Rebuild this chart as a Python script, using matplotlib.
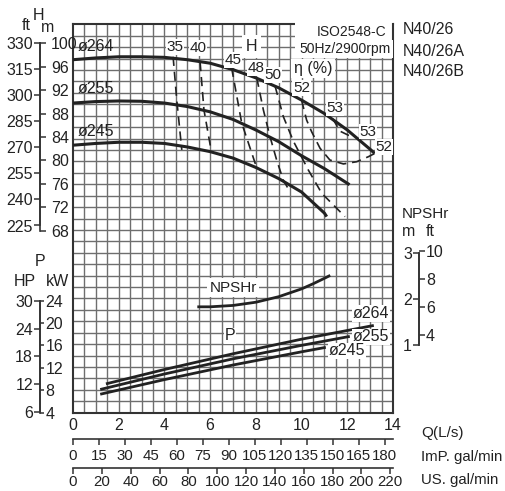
import matplotlib.pyplot as plt
import numpy as np
from matplotlib.patches import Rectangle

plt.rcParams["font.family"] = ["Liberation Sans", "DejaVu Sans"]

# ---- data (Q in L/s) ----
# head curves, m
q_h264 = [0, 1, 2, 3, 4, 5, 6, 7, 8, 9, 10, 11, 12, 13, 13.2]
h_264 = [97.2, 97.5, 97.7, 97.7, 97.6, 97.2, 96.6, 95.5, 94.1, 92.4, 90.3, 88.0, 85.2, 81.9, 81.2]
q_h255 = [0, 1, 2, 3, 4, 5, 6, 7, 8, 9, 10, 11, 12, 12.1]
h_255 = [89.8, 90.05, 90.15, 90.1, 89.8, 89.2, 88.3, 87.0, 85.2, 83.2, 80.8, 78.6, 76.1, 75.85]
q_h245 = [0, 1, 2, 3, 4, 5, 6, 7, 8, 9, 10, 11, 11.1]
h_245 = [82.6, 82.9, 83.1, 83.1, 82.9, 82.3, 81.5, 80.4, 78.8, 76.9, 74.6, 71.0, 70.4]

# iso-efficiency lines (Q, H)
eff_levels = ["35", "40", "45", "48", "50", "52", "53"]
eff_q = [
    [4.38, 4.54, 4.76],
    [5.56, 5.73, 6.04],
    [6.94, 7.38, 8.04],
    [8.04, 8.33, 8.62, 8.91, 9.2, 9.49],
    [8.84, 9.2, 9.64, 10.29, 10.88, 11.9],
    [10.0, 10.22, 10.44, 10.81, 11.24, 11.83, 12.41, 12.92, 13.21],
    [11.37, 11.68, 12.12, 12.3],
]
eff_h = [
    [97.7, 90.3, 81.8],
    [96.8, 88.6, 81.8],
    [95.8, 86.4, 78.7],
    [94.1, 88.6, 84.05, 80.07, 76.65, 74.65],
    [92.7, 87.5, 83.3, 78.4, 74.4, 70.4],
    [90.3, 86.9, 84.9, 82.07, 80.07, 79.4, 79.78, 80.63, 81.21],
    [87.1, 85.0, 84.17, 84.3],
]
eff_label_text = ["35", "40", "45", "48", "50", "52", "53", "53", "52"]
eff_label_q = [4.46, 5.47, 6.99, 8.0, 8.75, 10.0, 11.46, 12.9, 13.6]
eff_label_h = [99.4, 99.2, 97.15, 95.8, 94.6, 92.4, 88.95, 84.9, 82.3]

# NPSHr, m
q_npsh = [5.5, 6, 7, 8, 9, 10, 10.5, 11, 11.2]
npsh = [1.83, 1.83, 1.86, 1.93, 2.05, 2.22, 2.33, 2.45, 2.5]

# shaft power, kW
q_p264 = [1.5, 4, 7, 10, 13.1]
p_264 = [9.3, 11.8, 14.6, 17.2, 19.6]
q_p255 = [1.25, 4, 7, 10, 12.05]
p_255 = [8.3, 11.0, 13.7, 16.1, 17.65]
q_p245 = [1.25, 4, 7, 10, 11.0]
p_245 = [7.45, 10.0, 12.6, 14.95, 15.7]

# axis ticks
q_ticks = list(range(0, 15, 2))
imp_ticks = list(range(0, 181, 15))
us_ticks = list(range(0, 221, 20))
head_m_ticks = list(range(68, 101, 4))
head_ft_ticks = list(range(225, 331, 15))
p_kw_ticks = list(range(4, 25, 4))
p_hp_ticks = list(range(6, 31, 6))
npsh_m_ticks = [1, 2, 3]
npsh_ft_ticks = [4, 6, 8, 10]
models = ["N40/26", "N40/26A", "N40/26B"]

# ---- layout (pixels of the 506x491 picture) ----
W, H = 506, 491
GL, GR, GT, GB = 73, 393, 24.3, 412.7
INK = "#222222"
FS = 11.5
IMP_PER_LS = 13.198
US_PER_LS = 15.850


def fx(x):
    return x / W


def fy(y):
    return 1 - y / H


def lim(v1, p1, v2, p2):
    s = (v2 - v1) / (p2 - p1)
    return v1 + (GB - p1) * s, v1 + (GT - p1) * s


def add_ax(x0, x1, y0=GT, y1=GB):
    return fig.add_axes([fx(x0), fy(y1), (x1 - x0) / W, max((y1 - y0) / H, 1e-4)])


def overlay(ylim):
    ax = add_ax(GL, GR)
    ax.set_xlim(0, 14)
    ax.set_ylim(*ylim)
    ax.axis("off")
    return ax


fig = plt.figure(figsize=(W / 100, H / 100), dpi=100)

# grid
axg = add_ax(GL, GR)
axg.set_xlim(0, 14)
axg.set_ylim(0, 34)
for xv in np.arange(0.5, 14, 0.5):
    axg.axvline(xv, color="#6e6e6e", lw=1.0, zorder=1)
for yv in range(1, 34):
    axg.axhline(yv, color="#6e6e6e", lw=1.0, zorder=1)
for s in axg.spines.values():
    s.set_color("#333333")
    s.set_linewidth(1.5)
axg.spines["right"].set_zorder(6)
axg.add_patch(Rectangle((9.7, 31.5), 4.3, 3, fc="white", ec="none", zorder=4, clip_on=False))
axg.set_xticks(q_ticks)
axg.set_yticks([])
axg.tick_params(axis="x", length=0, pad=4, labelsize=FS, labelcolor=INK)

box = dict(boxstyle="square,pad=0.05", fc="white", ec="none")

# head + efficiency
axh = overlay(lim(100, 43.3, 68, 230.7))
for q, h in [(q_h264, h_264), (q_h255, h_255), (q_h245, h_245)]:
    axh.plot(q, h, color=INK, lw=2.2, solid_capstyle="butt")
for q, h in zip(eff_q, eff_h):
    axh.plot(q, h, color=INK, lw=1.2, dashes=(5.5, 3.5))
for t, q, h in zip(eff_label_text, eff_label_q, eff_label_h):
    axh.text(q, h, t, fontsize=11, color=INK, ha="center", va="center", bbox=box, zorder=5)
for t, h in zip(["ø264", "ø255", "ø245"], [99.4, 92.2, 84.9]):
    axh.text(0.2, h, t, fontsize=FS, color=INK, ha="left", va="center")
axh.text(7.8, 99.4, "H", fontsize=FS, color=INK, ha="center", va="center",
         bbox=dict(boxstyle="square,pad=0.25", fc="white", ec="none"))
axh.text(10.5, 95.7, "η (%)", fontsize=FS, color=INK, ha="center", va="center",
         bbox=dict(boxstyle="square,pad=0.15", fc="white", ec="none"))

# NPSHr
axn = overlay(lim(3, 253, 1, 345))
axn.plot(q_npsh, npsh, color=INK, lw=2.0)
axn.text(7.0, 2.25, "NPSHr", fontsize=11, color=INK, ha="center", va="center",
         bbox=dict(boxstyle="square,pad=0.15", fc="white", ec="none"))

# power
axp = overlay(lim(24, 301, 4, 413.3))
for q, p in [(q_p264, p_264), (q_p255, p_255), (q_p245, p_245)]:
    axp.plot(q, p, color=INK, lw=2.0)
axp.text(6.87, 17.8, "P", fontsize=FS, color=INK, ha="center", va="center", bbox=box)
for t, q, p in [("ø264", 13.04, 21.8), ("ø255", 13.04, 17.6), ("ø245", 12.0, 15.1)]:
    axp.text(q, p, t, fontsize=FS, color=INK, ha="center", va="center", bbox=box)

fig.text(fx(386), fy(32.5), "ISO2548-C", fontsize=10, color=INK, ha="right", va="center")
fig.text(fx(391), fy(49), "50Hz/2900rpm", fontsize=10, color=INK, ha="right", va="center",
         bbox=dict(boxstyle="square,pad=0.15", fc="white", ec="none"))


def scale_axis(x, ylim, ticks, bounds, side, length, pad):
    ax = add_ax(x, x + 0.02)
    ax.set_ylim(*ylim)
    ax.patch.set_visible(False)
    ax.set_xticks([])
    for s in ax.spines.values():
        s.set_visible(False)
    sp = ax.spines[side]
    sp.set_visible(True)
    sp.set_bounds(*bounds)
    sp.set_color("#333333")
    sp.set_linewidth(1.2)
    if side == "right":
        ax.yaxis.tick_right()
    ax.set_yticks(ticks)
    ax.tick_params(axis="y", length=length, width=1.1, color="#333333", pad=pad,
                   labelsize=FS, labelcolor=INK)
    return ax


# left scales
scale_axis(40, lim(330, 43.3, 225, 225.5), head_ft_ticks, (225, 330), "left", 4, 1)
scale_axis(40, lim(100, 43.3, 68, 230.7), head_m_ticks, (68, 100), "right", 4, 4)
scale_axis(40, lim(30, 301, 6, 411.7), p_hp_ticks, (6, 30), "left", 4, 1)
scale_axis(40, lim(24, 301, 4, 413.3), p_kw_ticks, (4, 24), "right", 3, 1)
# right NPSH scale
n_lim = lim(3, 253, 1, 345)
scale_axis(419, n_lim, npsh_m_ticks, (1, 3), "left", 4, 1)
scale_axis(419, (n_lim[0] * 3.2808, n_lim[1] * 3.2808), npsh_ft_ticks, (1 * 3.2808, 3 * 3.2808),
           "right", 4, 1)


def flow_axis(y, per_ls, ticks, pad):
    ax = add_ax(GL, GR, y, y)
    ax.set_xlim(0, 14 * per_ls)
    ax.patch.set_visible(False)
    ax.set_yticks([])
    for s in ax.spines.values():
        s.set_visible(False)
    ax.spines["bottom"].set_visible(True)
    ax.spines["bottom"].set_color("#333333")
    ax.spines["bottom"].set_linewidth(1.2)
    ax.set_xticks(ticks)
    ax.tick_params(axis="x", length=4, width=1.1, color="#333333", pad=pad,
                   labelsize=10.8, labelcolor=INK)


flow_axis(439.3, IMP_PER_LS, imp_ticks, 3)
flow_axis(467.7, US_PER_LS, us_ticks, 1.5)

# axis titles
fig.text(fx(26), fy(25), "ft", fontsize=FS, color=INK, ha="center", va="center")
fig.text(fx(39), fy(15), "H", fontsize=FS, color=INK, ha="center", va="center")
fig.text(fx(48), fy(27), "m", fontsize=FS, color=INK, ha="center", va="center")
fig.text(fx(40), fy(261), "P", fontsize=FS, color=INK, ha="center", va="center")
fig.text(fx(25), fy(282), "HP", fontsize=FS, color=INK, ha="center", va="center")
fig.text(fx(58), fy(282), "kW", fontsize=FS, color=INK, ha="center", va="center")
fig.text(fx(402), fy(214), "NPSHr", fontsize=11, color=INK, ha="left", va="center")
fig.text(fx(409), fy(232), "m", fontsize=FS, color=INK, ha="center", va="center")
fig.text(fx(430), fy(232), "ft", fontsize=FS, color=INK, ha="center", va="center")
for t, y in zip(models, [30, 51.7, 71.7]):
    fig.text(fx(402.7), fy(y), t, fontsize=11.5, color=INK, ha="left", va="center")
fig.text(fx(421), fy(432.7), "Q(L/s)", fontsize=11, color=INK, ha="left", va="center")
fig.text(fx(421), fy(456.7), "ImP. gal/min", fontsize=10.8, color=INK, ha="left", va="center")
fig.text(fx(421), fy(480), "US. gal/min", fontsize=10.8, color=INK, ha="left", va="center")

fig.savefig("out.png", dpi=100)
plt.close(fig)
